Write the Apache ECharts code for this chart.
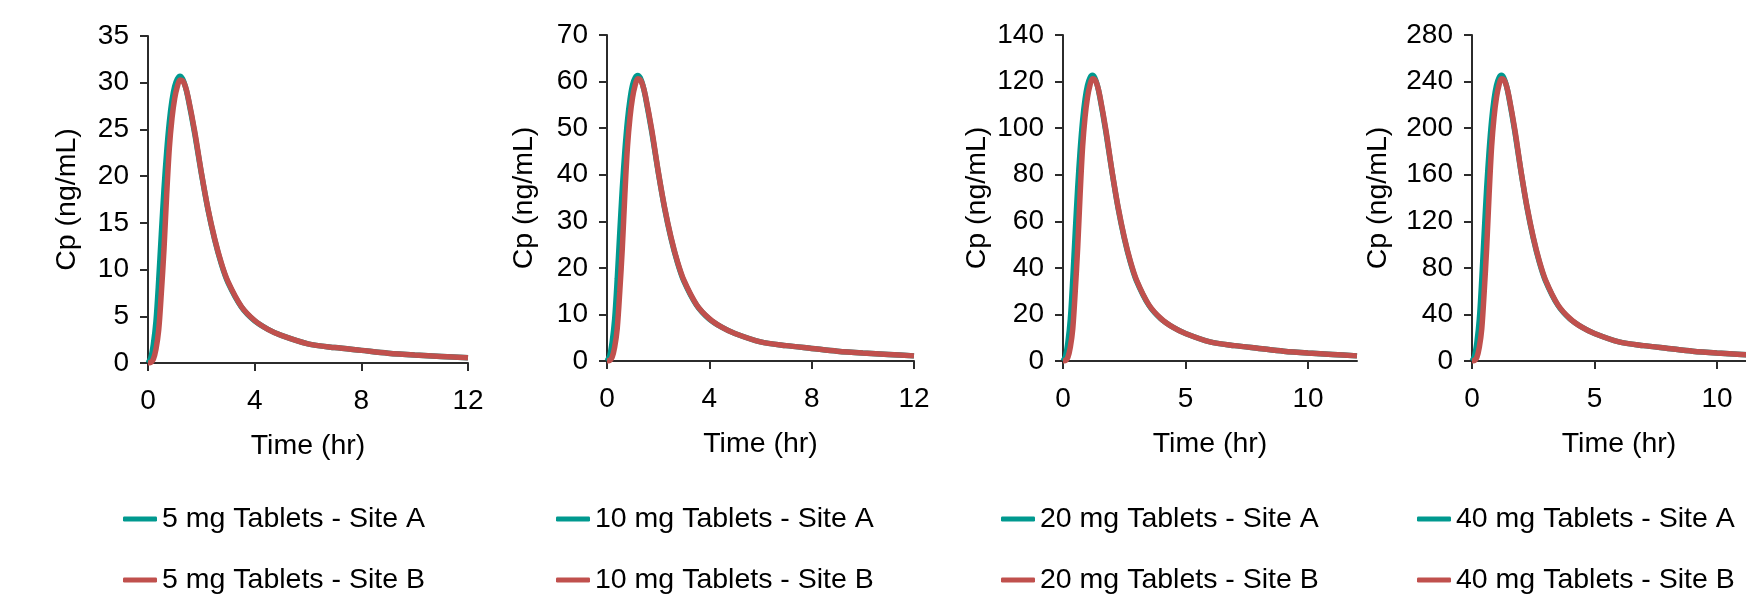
<!DOCTYPE html>
<html>
<head>
<meta charset="utf-8">
<script src="https://cdn.jsdelivr.net/npm/echarts@6/dist/echarts.min.js"></script>
<style>
  html, body { margin: 0; padding: 0; background: #fff; overflow: hidden; }
  #chart { width: 1800px; height: 595px; }
</style>
</head>
<body>
<div id="chart"></div>
<script>
// Plasma concentration profiles, 4 dose levels x 2 manufacturing sites
const times = [0, 0.1, 0.2, 0.3, 0.4, 0.5, 0.6, 0.7, 0.8, 0.9, 1.0, 1.1, 1.2, 1.3, 1.4, 1.5, 1.75, 2, 2.25, 2.5, 2.75, 3, 3.5, 4, 4.5, 5, 6, 7, 8, 9, 10, 11, 12];

const siteA5 = [0, 0.5, 2, 4.5, 8.8, 13.8, 18.6, 22.6, 25.8, 28.1, 29.6, 30.4, 30.7, 30.4, 29.6, 28.4, 24.6, 20.3, 16.4, 13.2, 10.6, 8.6, 6.0, 4.5, 3.6, 2.95, 2.05, 1.65, 1.35, 1.05, 0.85, 0.7, 0.55];
const siteB5 = [0, 0.05, 0.4, 1.5, 3.5, 7.5, 12.2, 18, 23, 26.2, 28.3, 29.6, 30.3, 30.2, 29.6, 28.5, 24.8, 20.4, 16.5, 13.3, 10.7, 8.7, 6.05, 4.55, 3.6, 2.95, 2.05, 1.65, 1.35, 1.05, 0.85, 0.7, 0.55];

const siteA10 = [0, 1, 4, 9, 17.6, 27.6, 37.2, 45.2, 51.6, 56.2, 59.3, 60.8, 61.3, 60.8, 59.2, 56.8, 49.2, 40.6, 32.8, 26.4, 21.2, 17.2, 12, 9, 7.2, 5.9, 4.1, 3.3, 2.7, 2.1, 1.7, 1.4, 1.1];
const siteB10 = [0, 0.1, 0.8, 3, 7, 15, 24.4, 36, 46, 52.4, 56.6, 59.2, 60.6, 60.4, 59.2, 57, 49.6, 40.8, 33, 26.6, 21.4, 17.4, 12.1, 9.1, 7.2, 5.9, 4.1, 3.3, 2.7, 2.1, 1.7, 1.4, 1.1];

const siteA20 = [0, 2, 8, 18, 35.2, 55.2, 74.4, 90.4, 103.2, 112.4, 118.4, 121.6, 122.7, 121.6, 118.4, 113.6, 98.4, 81.2, 65.6, 52.8, 42.4, 34.4, 24, 18, 14.4, 11.8, 8.2, 6.6, 5.4, 4.2, 3.4, 2.8, 2.2];
const siteB20 = [0, 0.2, 1.6, 6, 14, 30, 48.8, 72, 92, 104.8, 113.2, 118.4, 121.2, 120.8, 118.4, 114, 99.2, 81.6, 66, 53.2, 42.8, 34.8, 24.2, 18.2, 14.4, 11.8, 8.2, 6.6, 5.4, 4.2, 3.4, 2.8, 2.2];

const siteA40 = [0, 4, 16, 36, 70.4, 110.4, 148.8, 180.8, 206.4, 224.8, 236.8, 243.2, 245.4, 243.2, 236.8, 227.2, 196.8, 162.4, 131.2, 105.6, 84.8, 68.8, 48, 36, 28.8, 23.6, 16.4, 13.2, 10.8, 8.4, 6.8, 5.6, 4.4];
const siteB40 = [0, 0.4, 3.2, 12, 28, 60, 97.6, 144, 184, 209.6, 226.4, 236.8, 242.4, 241.6, 236.8, 228, 198.4, 163.2, 132, 106.4, 85.6, 69.6, 48.4, 36.4, 28.8, 23.6, 16.4, 13.2, 10.8, 8.4, 6.8, 5.6, 4.4];

const doses = ['5 mg', '10 mg', '20 mg', '40 mg'];
const yMax = [35, 70, 140, 280];
const yStep = [5, 10, 20, 40];
const xTicks = [[0, 4, 8, 12], [0, 4, 8, 12], [0, 5, 10], [0, 5, 10]];
const siteA = [siteA5, siteA10, siteA20, siteA40];
const siteB = [siteB5, siteB10, siteB20, siteB40];

// panel layout (px)
const grids = [
  { left: 148, top: 36, width: 320, height: 327 },
  { left: 607, top: 35, width: 307, height: 326 },
  { left: 1063, top: 35, width: 294, height: 326 },
  { left: 1472, top: 35, width: 294, height: 326 }
];
const yNameGap = [66, 68, 71, 79];
const legendLeft = [123, 556, 1001, 1417];

const FONT = 'Liberation Sans, Arial, Helvetica, sans-serif';
const FS = 28.5;   // names + legend
const TFS = 28;    // tick labels
const AXIS_COLOR = '#2b2b2b';
const TEAL = '#00998f';
const RED = '#c0504d';

const chart = echarts.init(document.getElementById('chart'));

const pairs = (arr) => times.map((t, i) => [t, arr[i]]);

const option = {
  animation: false,
  backgroundColor: '#fff',
  textStyle: { fontFamily: FONT },
  grid: grids.map(g => Object.assign({ containLabel: false }, g)),
  xAxis: doses.map((d, i) => ({
    type: 'value', gridIndex: i, min: 0, max: 12,
    name: 'Time (hr)', nameLocation: 'middle', nameGap: 69,
    nameTextStyle: { fontSize: FS, color: '#000', fontFamily: FONT },
    axisLine: { show: true, lineStyle: { color: AXIS_COLOR, width: 2 } },
    axisTick: { show: true, length: 8, lineStyle: { color: AXIS_COLOR, width: 2 }, customValues: xTicks[i] },
    axisLabel: { fontSize: TFS, color: '#000', margin: 24, fontFamily: FONT, customValues: xTicks[i] },
    splitLine: { show: false }
  })),
  yAxis: doses.map((d, i) => ({
    type: 'value', gridIndex: i, min: 0, max: yMax[i], interval: yStep[i],
    name: 'Cp (ng/mL)', nameLocation: 'middle', nameGap: yNameGap[i],
    nameTextStyle: { fontSize: FS, color: '#000', fontFamily: FONT },
    axisLine: { show: true, lineStyle: { color: AXIS_COLOR, width: 2 } },
    axisTick: { show: true, length: 8, lineStyle: { color: AXIS_COLOR, width: 2 } },
    axisLabel: { fontSize: TFS, color: '#000', margin: 19, fontFamily: FONT },
    splitLine: { show: false }
  })),
  legend: doses.map((d, i) => ({
    left: legendLeft[i], top: 504.5, orient: 'vertical', padding: 0,
    itemWidth: 34, itemHeight: 5, itemGap: 32, icon: 'roundRect',
    selectedMode: false,
    textStyle: { fontSize: FS, lineHeight: 29, color: '#000', fontFamily: FONT },
    data: [d + ' Tablets - Site A', d + ' Tablets - Site B']
  })),
  series: []
};

doses.forEach((d, i) => {
  option.series.push({
    name: d + ' Tablets - Site A', type: 'line', xAxisIndex: i, yAxisIndex: i,
    data: pairs(siteA[i]), smooth: 0.3, showSymbol: false, symbol: 'none',
    lineStyle: { color: TEAL, width: 5.5 }, itemStyle: { color: TEAL }
  });
  option.series.push({
    name: d + ' Tablets - Site B', type: 'line', xAxisIndex: i, yAxisIndex: i,
    data: pairs(siteB[i]), smooth: 0.3, showSymbol: false, symbol: 'none',
    lineStyle: { color: RED, width: 5.5 }, itemStyle: { color: RED }
  });
});

chart.setOption(option);
</script>
</body>
</html>
